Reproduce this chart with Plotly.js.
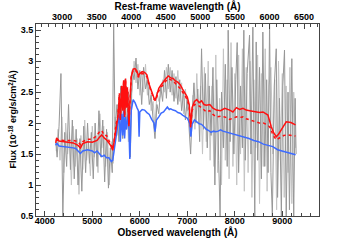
<!DOCTYPE html>
<html>
<head>
<meta charset="utf-8">
<script src="https://cdn.plot.ly/plotly-3.0.1.min.js"></script>
<style>html,body{margin:0;padding:0;background:#fff;}#chart{width:355px;height:240px;}</style>
</head>
<body>
<div id="chart"></div>
<script>
// Observed-frame spectrum, lighter layer (gray)
const lightWave = [4240,4280,4320,4360,4400,4440,4480,4520,4560,4600,4640,4680,4720,4760,4800,4840,4880,4920,4960,5000,5040,5080,5120,5160,5200,5240,5280,5320,5360,5400,5440,5480,5520,5560,5600,5640,5680,5720,5760,5800,5840,5880,5920,5960,6000,6040,6080,6120,6160,6200,6240,6280,6320,6360,6400,6440,6480,6520,6560,6600,6640,6680,6720,6760,6800,6840,6880,6920,6960,7000,7040,7080,7120,7160,7200,7240,7280,7320,7360,7400,7440,7480,7520,7560,7600,7640,7680,7720,7760,7800,7840,7880,7920,7960,8000,8040,8080,8120,8160,8200,8240,8280,8320,8360,8400,8440,8480,8520,8560,8600,8640,8680,8720,8760,8800,8840,8880,8920,8960,9000,9040,9080,9120,9160,9200,9240,9280];
const lightFlux = [1.55,1.90,1.40,2.10,1.20,2.00,1.50,1.85,1.00,1.95,1.30,1.75,0.85,1.80,1.25,2.05,1.40,1.70,1.15,1.95,1.45,1.80,1.20,2.15,1.60,1.95,1.30,1.85,1.00,1.70,1.35,2.10,1.80,2.45,1.90,2.55,1.80,2.60,1.70,2.35,2.55,3.00,2.65,2.95,2.45,2.80,2.50,2.95,2.45,2.65,2.20,2.35,1.95,2.50,2.35,2.45,2.70,2.50,2.90,2.55,2.90,2.45,2.80,2.40,2.85,2.35,2.65,2.15,2.55,2.20,2.30,1.80,2.45,1.90,2.80,2.00,2.60,1.50,2.90,1.70,3.00,1.40,2.60,1.30,3.10,1.20,2.40,1.00,3.20,1.40,2.70,1.10,3.30,1.30,2.80,1.00,3.10,1.50,3.20,0.90,2.90,1.20,3.00,0.80,2.70,1.60,3.10,0.70,2.80,1.30,3.20,0.90,2.60,2.90,1.50,2.70,0.60,3.00,1.40,2.80,0.80,2.60,1.20,2.90,0.70,2.50,1.60];

// Observed-frame spectrum, darker layer (gray)
const grayWave = [4230,4260,4300,4340,4380,4420,4460,4500,4540,4580,4620,4660,4700,4740,4780,4820,4860,4900,4940,4980,5020,5060,5100,5140,5180,5220,5260,5300,5340,5380,5420,5450,5480,5520,5560,5600,5640,5680,5720,5760,5800,5840,5880,5920,5960,6000,6040,6080,6120,6160,6200,6240,6280,6320,6360,6400,6440,6480,6520,6560,6600,6640,6680,6720,6760,6800,6840,6880,6920,6960,7000,7040,7070,7100,7140,7180,7220,7260,7300,7340,7380,7420,7460,7500,7540,7580,7620,7660,7690,7720,7760,7800,7840,7860,7900,7940,7980,8020,8050,8080,8120,8160,8190,8220,8260,8310,8340,8380,8420,8450,8480,8520,8560,8590,8630,8670,8700,8732,8760,8790,8830,8872,8900,8940,8980,9010,9046,9082,9120,9150,9200,9240,9270,9290];
const grayFlux = [1.70,1.45,1.95,2.80,0.50,1.85,1.30,2.30,1.25,2.05,1.10,1.90,1.00,1.75,0.90,1.95,1.20,2.00,1.35,1.85,1.10,2.00,1.30,2.20,1.45,2.05,1.05,1.90,0.95,1.60,1.20,3.60,1.90,2.30,1.70,2.60,1.75,2.70,1.90,2.50,1.45,2.85,2.70,3.05,2.55,2.85,2.30,2.90,2.55,2.70,2.30,2.45,2.05,1.75,2.30,2.15,2.60,2.35,2.85,2.40,2.95,2.50,2.85,2.35,2.75,2.30,2.70,2.20,2.50,2.05,2.40,1.90,1.50,2.10,2.65,2.00,2.55,1.70,3.20,1.90,2.80,1.60,2.60,1.80,2.90,1.00,2.70,1.40,0.50,2.50,1.60,2.95,1.30,3.50,1.70,2.90,1.50,2.70,3.30,1.20,2.60,1.60,3.50,1.40,2.80,3.42,1.50,3.55,0.50,3.31,1.40,2.90,1.10,3.47,1.30,2.70,1.20,3.62,1.20,0.50,2.60,3.20,0.80,2.40,0.50,2.60,3.18,0.50,2.50,0.60,3.04,0.50,2.40,1.50];

// Model 1 (red solid)
const redWave = [4230,4250,4300,4400,4500,4600,4700,4750,4800,4900,5000,5100,5150,5200,5250,5300,5350,5400,5430,5460,5500,5540,5570,5590,5620,5640,5660,5680,5700,5720,5740,5770,5790,5820,5860,5900,5940,5970,6000,6050,6100,6150,6200,6250,6300,6330,6360,6400,6450,6500,6550,6600,6650,6700,6750,6800,6850,6900,6950,7000,7040,7070,7100,7150,7200,7250,7300,7350,7400,7474,7540,7614,7700,7788,7893,7960,8033,8100,8172,8240,8312,8380,8452,8520,8593,8650,8697,8767,8820,8872,8920,8977,9030,9082,9180,9277];
const redFlux = [1.68,1.76,1.71,1.70,1.70,1.68,1.64,1.60,1.67,1.70,1.69,1.72,1.77,1.81,1.76,1.73,1.68,1.62,1.56,1.70,1.95,2.10,2.45,2.05,2.60,2.20,2.68,2.10,2.72,2.25,2.55,1.95,2.30,2.75,2.87,2.88,2.84,2.76,2.80,2.83,2.82,2.78,2.62,2.50,2.40,2.38,2.45,2.56,2.62,2.68,2.72,2.76,2.73,2.72,2.68,2.66,2.62,2.55,2.48,2.42,2.30,1.95,2.25,2.35,2.38,2.33,2.36,2.30,2.29,2.30,2.24,2.21,2.20,2.24,2.21,2.18,2.25,2.22,2.24,2.21,2.20,2.19,2.18,2.17,2.18,2.15,2.13,1.94,1.84,1.78,1.82,1.89,1.96,2.02,2.01,1.97];

// Model 2 (red dotted)
const dotWave = [4230,4300,4400,4500,4600,4700,4750,4800,4900,5000,5100,5150,5200,5250,5300,5350,5400,5430,5460,5500,5540,5570,5590,5620,5640,5660,5680,5700,5720,5740,5770,5790,5820,5860,5900,5940,5970,6000,6050,6100,6150,6200,6250,6300,6330,6360,6400,6450,6500,6550,6600,6650,6700,6750,6800,6850,6900,6950,7000,7040,7070,7100,7150,7200,7300,7400,7474,7540,7614,7700,7788,7893,7960,8033,8100,8172,8240,8312,8380,8452,8523,8600,8697,8750,8800,8872,8920,8977,9030,9100,9180,9277];
const dotFlux = [1.72,1.73,1.72,1.72,1.72,1.70,1.65,1.70,1.74,1.74,1.80,1.86,1.88,1.80,1.80,1.72,1.62,1.58,1.72,1.98,2.12,2.48,2.08,2.62,2.22,2.70,2.12,2.70,2.28,2.58,1.98,2.32,2.76,2.85,2.86,2.82,2.74,2.78,2.80,2.79,2.75,2.60,2.48,2.38,2.36,2.43,2.52,2.58,2.64,2.68,2.72,2.70,2.68,2.64,2.60,2.56,2.50,2.44,2.38,2.26,1.93,2.20,2.30,2.30,2.25,2.18,2.20,2.14,2.10,2.11,2.10,2.06,2.08,2.10,2.09,2.10,2.07,2.05,2.04,2.02,2.00,2.00,1.97,1.92,1.81,1.73,1.75,1.78,1.80,1.81,1.80,1.79];

// Model 3 (blue)
const blueWave = [4230,4250,4300,4400,4500,4600,4650,4700,4750,4800,4850,4900,5000,5050,5100,5150,5200,5250,5300,5350,5400,5430,5460,5500,5540,5570,5590,5620,5640,5660,5680,5700,5720,5760,5790,5820,5860,5900,5940,5970,5985,6000,6050,6100,6150,6200,6250,6300,6320,6350,6400,6450,6500,6550,6580,6620,6650,6700,6750,6800,6850,6900,6950,7000,7050,7075,7100,7150,7200,7250,7300,7350,7400,7450,7500,7550,7600,7650,7700,7750,7800,7850,7900,8000,8100,8200,8300,8400,8500,8600,8700,8800,8900,9000,9100,9200,9280];
const blueFlux = [1.64,1.68,1.63,1.62,1.62,1.60,1.59,1.55,1.51,1.55,1.56,1.57,1.55,1.52,1.55,1.50,1.46,1.48,1.44,1.44,1.38,1.40,1.55,1.80,1.95,2.15,1.70,2.15,1.80,2.20,1.75,2.10,1.90,2.15,1.42,2.20,2.38,2.33,2.25,2.20,1.78,2.18,2.22,2.21,2.17,2.14,2.06,2.00,1.86,2.05,2.10,2.16,2.18,2.22,2.26,2.22,2.23,2.21,2.20,2.17,2.16,2.13,2.11,2.08,2.00,1.78,1.98,2.05,2.02,1.99,1.98,1.93,1.90,1.88,1.85,1.87,1.86,1.87,1.89,1.87,1.86,1.84,1.83,1.81,1.79,1.77,1.75,1.72,1.70,1.66,1.64,1.62,1.57,1.55,1.53,1.51,1.49];

// Axis ticks
const obsTicks = [4000,5000,6000,7000,8000,9000];
const restTicks = [3000,3500,4000,4500,5000,5500,6000,6500];
const fluxTicks = [0.5,1,1.5,2,2.5,3,3.5];
const fluxTickText = ['0.5','1','1.5','2','2.5','3','3.5'];

const onePlusZ = 1.455;
const obsRange = [3815, 9772];
const restRange = obsRange.map(v => v / onePlusZ);

const fam = 'Liberation Sans, Arial, sans-serif';
const tickFont = {family: fam, size: 9, color: '#000', weight: 'bold'};
const titleFont = {family: fam, size: 10, color: '#000'};
const axisCol = '#444';

const traces = [
  {x: lightWave, y: lightFlux, type: 'scatter', mode: 'lines', line: {color: '#c4c4c4', width: 1}},
  {x: grayWave, y: grayFlux, type: 'scatter', mode: 'lines', line: {color: '#979797', width: 1}},
  {x: blueWave, y: blueFlux, type: 'scatter', mode: 'lines', line: {color: '#3d6bff', width: 1.5}},
  {x: dotWave, y: dotFlux, type: 'scatter', mode: 'lines', line: {color: '#ff1010', width: 1.5, dash: 'dot'}},
  {x: redWave, y: redFlux, type: 'scatter', mode: 'lines', line: {color: '#ff1010', width: 1.5}},
  {x: restRange, y: [0.5, 0.5], xaxis: 'x2', type: 'scatter', mode: 'lines', line: {width: 0}, opacity: 0}
];

const layout = {
  width: 355, height: 240,
  margin: {l: 36, r: 35.5, t: 24, b: 24},
  paper_bgcolor: '#fff', plot_bgcolor: '#fff',
  showlegend: false,
  font: {family: fam, size: 10, color: '#000'},
  xaxis: {
    range: obsRange, showgrid: false, zeroline: false,
    showline: true, linecolor: axisCol, linewidth: 1, mirror: true,
    ticks: 'inside', ticklen: 5, tickcolor: axisCol,
    tickvals: obsTicks, tickfont: tickFont, ticklabelstandoff: -4,
    minor: {ticks: 'inside', ticklen: 3, dtick: 200, tick0: 4000, tickcolor: axisCol},
    title: {text: '<b>Observed wavelength (Å)</b>', font: titleFont, standoff: 1}
  },
  xaxis2: {
    range: restRange, overlaying: 'x', side: 'top', anchor: 'y',
    showgrid: false, zeroline: false, showline: true, linecolor: axisCol, linewidth: 1,
    ticks: 'inside', ticklen: 5, tickcolor: axisCol,
    tickvals: restTicks, tickfont: tickFont, ticklabelstandoff: -1,
    minor: {ticks: 'inside', ticklen: 3, dtick: 100, tick0: 3000, tickcolor: axisCol},
    title: {text: '<b>Rest-frame wavelength (Å)</b>', font: titleFont, standoff: 2}
  },
  yaxis: {
    range: [0.5, 3.6], showgrid: false, zeroline: false,
    showline: true, linecolor: axisCol, linewidth: 1, mirror: true,
    ticks: 'inside', ticklen: 5, tickcolor: axisCol,
    tickvals: fluxTicks, ticktext: fluxTickText, tickfont: tickFont,
    minor: {ticks: 'inside', ticklen: 3, dtick: 0.1, tick0: 0.5, tickcolor: axisCol}
  },
  annotations: [{
    text: '<b>Flux (10<sup>-18</sup> erg/s/cm<sup>2</sup>/Å)</b>',
    xref: 'paper', yref: 'paper', x: -0.083, y: 0.5, xanchor: 'center', yanchor: 'middle',
    textangle: -90, showarrow: false, font: {family: fam, size: 9, color: '#000'}
  }]
};

Plotly.newPlot('chart', traces, layout, {displayModeBar: false, staticPlot: true});
</script>
</body>
</html>
